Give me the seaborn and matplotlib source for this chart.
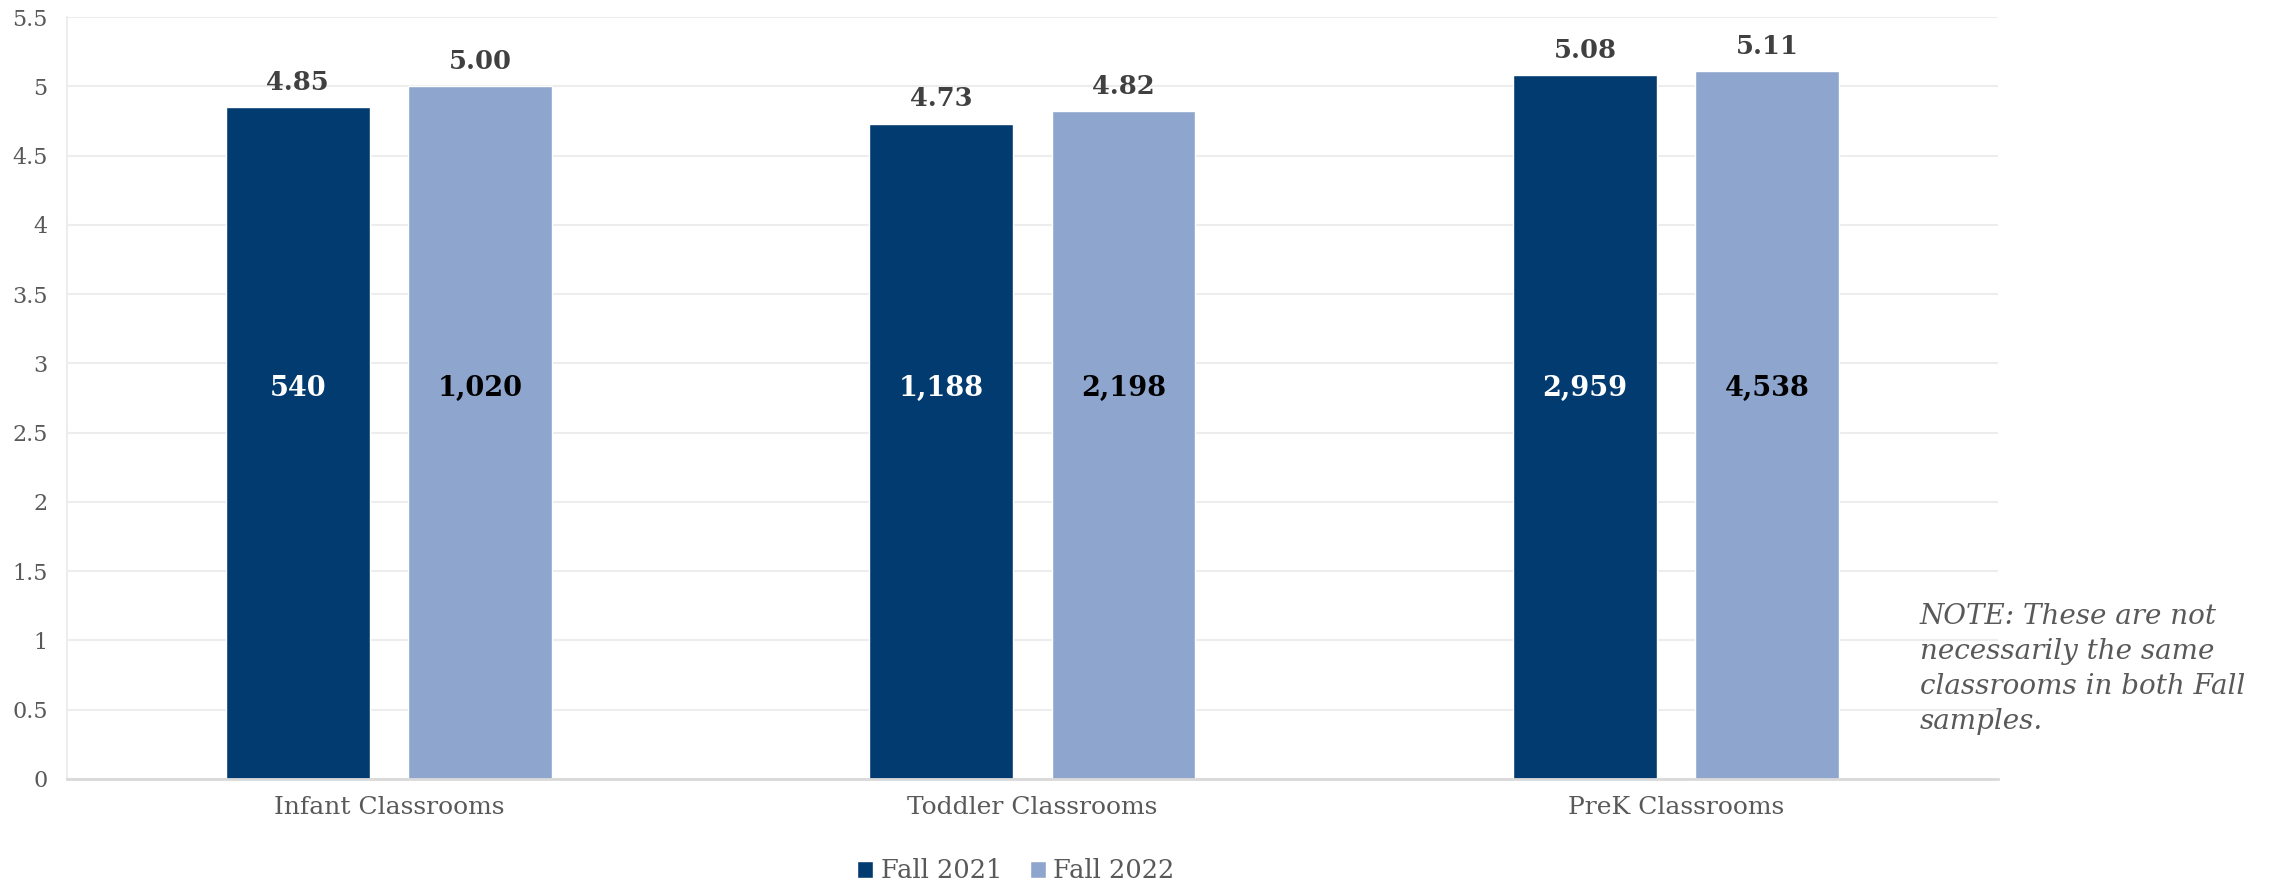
import matplotlib
matplotlib.use("Agg")
import matplotlib.pyplot as plt
import seaborn as sns
import pandas as pd
from matplotlib.patches import Patch

categories = ["Infant Classrooms", "Toddler Classrooms", "PreK Classrooms"]
series = ["Fall 2021", "Fall 2022"]
fall_2021 = [4.85, 4.73, 5.08]
fall_2022 = [5.00, 4.82, 5.11]
counts_2021 = ["540", "1,188", "2,959"]
counts_2022 = ["1,020", "2,198", "4,538"]
y_ticks = [0, 0.5, 1, 1.5, 2, 2.5, 3, 3.5, 4, 4.5, 5, 5.5]
y_ticklabels = ["0", "0.5", "1", "1.5", "2", "2.5", "3", "3.5", "4", "4.5", "5", "5.5"]
note = "NOTE: These are not\nnecessarily the same\nclassrooms in both Fall\nsamples."

colors = ["#023B70", "#8EA6CE"]

df = pd.DataFrame({
    "category": categories * 2,
    "series": [series[0]] * 3 + [series[1]] * 3,
    "value": fall_2021 + fall_2022,
})

sns.set_theme(style="white")
plt.rcParams["font.family"] = ["DejaVu Serif"]

fig = plt.figure(figsize=(22.74, 8.82), dpi=100)
ax = fig.add_axes([0.0295, 0.1168, 0.849, 0.8639])

sns.barplot(data=df, x="category", y="value", hue="series", order=categories,
            hue_order=series, palette=colors, width=0.566, gap=0.21,
            saturation=1, legend=False, ax=ax, errorbar=None)

ax.set_ylim(0, 5.5)
ax.set_xlim(-0.5, 2.5)
ax.set_yticks(y_ticks)
ax.set_yticklabels(y_ticklabels)
ax.yaxis.grid(True, color="#EDEDED", linewidth=1.5)
ax.set_axisbelow(True)
for s in ["top", "right"]:
    ax.spines[s].set_visible(False)
ax.spines["left"].set_color("#EDEDED")
ax.spines["left"].set_linewidth(1.5)
ax.spines["bottom"].set_color("#D9D9D9")
ax.spines["bottom"].set_linewidth(2)
ax.tick_params(axis="y", length=0, pad=14, labelsize=16, labelcolor="#595959")
ax.tick_params(axis="x", length=0, pad=12, labelsize=18, labelcolor="#595959")
ax.set_xlabel("")
ax.set_ylabel("")

containers = ax.containers
top_labels = [fall_2021, fall_2022]
inner_labels = [counts_2021, counts_2022]
inner_colors = ["white", "black"]
for ci, cont in enumerate(containers):
    for bi, bar in enumerate(cont):
        xc = bar.get_x() + bar.get_width() / 2
        h = bar.get_height()
        ax.annotate(f"{top_labels[ci][bi]:.2f}", (xc, h), xytext=(0, 9),
                    textcoords="offset points", ha="center", va="bottom",
                    fontsize=18.5, fontweight="bold", color="#404040")
        ax.text(xc, 2.82, inner_labels[ci][bi], ha="center", va="center",
                fontsize=19.5, fontweight="bold", color=inner_colors[ci])

fig.text(1920 / 2274, 1 - 603 / 882, note, ha="left", va="top",
         fontsize=20, style="italic", color="#595959", linespacing=1.38)

handles = [Patch(facecolor=colors[0], label=series[0]),
           Patch(facecolor=colors[1], label=series[1])]
fig.legend(handles=handles, loc="center", bbox_to_anchor=(1016 / 2274, 1 - 871 / 882),
           ncol=2, frameon=False, fontsize=18.5, labelcolor="#595959",
           handlelength=0.6, handleheight=0.6, handletextpad=0.3, columnspacing=1.1)

fig.savefig("out.png", dpi=100)
